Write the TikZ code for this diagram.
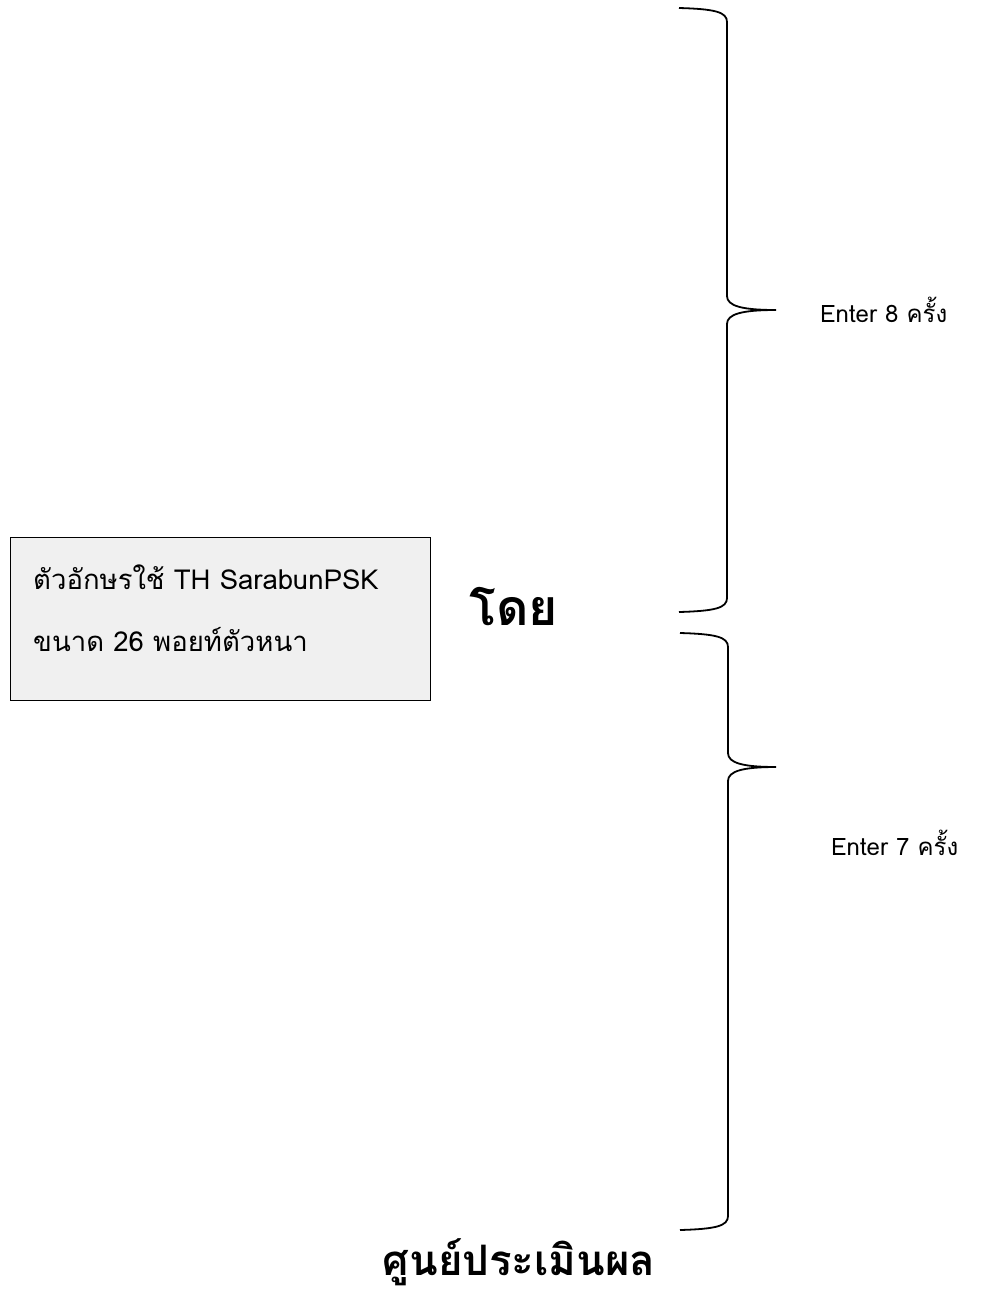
\documentclass[tikz,border=0pt]{standalone}
\usepackage{fontspec}
\newfontfamily\thaifont[Script=Thai]{Loma}
\begin{document}
\begin{tikzpicture}[x=1pt,y=-1pt,
  brace/.style={draw=black,line width=1.8pt},
  lbl/.style={font=\thaifont\fontsize{24}{28}\selectfont,anchor=west,inner sep=0pt},
  boxlbl/.style={font=\thaifont\fontsize{27.5}{32}\selectfont,anchor=west,inner sep=0pt},
  big/.style={font=\thaifont\bfseries\fontsize{42}{48}\selectfont,inner sep=0pt}]
\useasboundingbox (0,0) rectangle (981,1299);
% upper brace
\coordinate (u1) at (679,8);
\coordinate (ut) at (776,310);
\coordinate (u2) at (679,612);
\draw[brace] (u1) .. controls (715,9) and (727,12) .. (727,22) -- (727,296)
  .. controls (727,306) and (742,310) .. (ut)
  .. controls (742,310) and (727,314) .. (727,324) -- (727,598)
  .. controls (727,608) and (715,611) .. (u2);
% lower brace
\coordinate (l1) at (680,633);
\coordinate (lt) at (776,767);
\coordinate (l2) at (680,1230);
\draw[brace] (l1) .. controls (716,634) and (728,637) .. (728,647) -- (728,753)
  .. controls (728,763) and (743,767) .. (lt)
  .. controls (743,767) and (728,771) .. (728,781) -- (728,1216)
  .. controls (728,1226) and (716,1229) .. (l2);
% box
\node[draw=black,line width=1.2pt,fill=black!6,minimum width=420pt,minimum height=163pt,anchor=north west,inner sep=0pt] (box) at (10,537) {};
\node[boxlbl] (t1) at (33,577) {ตัวอักษรใช้ TH SarabunPSK};
\node[boxlbl] (t2) at (33,640) {ขนาด 26 พอยท์ตัวหนา};
\node[big,font=\thaifont\bfseries\fontsize{50}{56}\selectfont] (doi) at (514,607) {โดย};
\node[lbl] (e8) at (820,310) {Enter 8 ครั้ง};
\node[lbl] (e7) at (831,843) {Enter 7 ครั้ง};
\node[big] (center) at (519,1262) {ศูนย์ประเมินผล};
\end{tikzpicture}
\end{document}
